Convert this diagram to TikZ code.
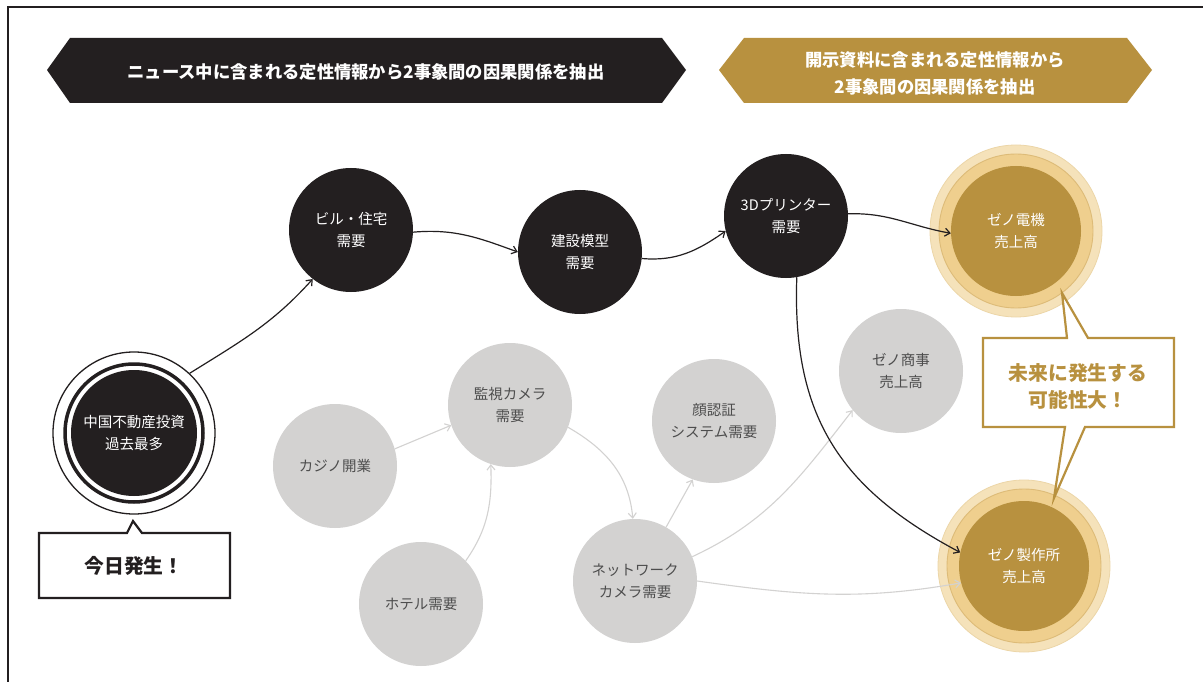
\documentclass[tikz,border=0pt]{standalone}
\usepackage{fontspec}
\setmainfont{Noto Sans CJK JP}
\usetikzlibrary{arrows.meta}
\definecolor{ink}{HTML}{231F20}
\definecolor{golddark}{HTML}{B8913F}
\definecolor{goldmid}{HTML}{EFCF8E}
\definecolor{goldlight}{HTML}{F5E2BA}
\definecolor{goldedge}{HTML}{DDBB78}
\definecolor{grayfill}{HTML}{D3D2D1}
\definecolor{graytext}{HTML}{4D4D4D}
\definecolor{grayline}{HTML}{D3D2D1}
\begin{document}
\begin{tikzpicture}[x=1pt,y=1pt,
  nodefont/.style={font=\fontsize{14.5}{21.5}\selectfont},
  blk/.style={circle,fill=ink,minimum size=124pt,inner sep=0pt,text=white,nodefont,align=center},
  gry/.style={circle,fill=grayfill,minimum size=124pt,inner sep=0pt,text=graytext,nodefont,align=center},
  gld/.style={circle,fill=golddark,minimum size=130pt,inner sep=0pt,text=white,nodefont,align=center},
  ringout/.style={circle,fill=goldlight,draw=goldlight!85!golddark,line width=0.8pt,minimum size=172pt,inner sep=0pt},
  ringmid/.style={circle,fill=goldmid,draw=goldedge,line width=0.9pt,minimum size=154pt,inner sep=0pt},
  barr/.style={draw=ink,line width=1.2pt,-{Straight Barb[length=5pt,width=8pt]}},
  garr/.style={draw=grayline,line width=1.1pt,-{Straight Barb[length=5pt,width=8pt]}},
  bannertext/.style={text=white,font=\bfseries\fontsize{17.3}{27}\selectfont,align=center},
  callfont/.style={font=\bfseries\fontsize{19.8}{27}\selectfont,align=center}
]
\useasboundingbox (0,0) rectangle (1203,-682);
\fill[white] (0,0) rectangle (1203,-682);
% frame
\draw[ink,line width=2pt] (8,-682) -- (8,-7) -- (1203,-7);

% banners
\fill[ink] (47,-70) -- (70,-38) -- (662,-38) -- (686,-70) -- (662,-103) -- (70,-103) -- cycle;
\node[bannertext] (bannerL) at (366,-72) {ニュース中に含まれる定性情報から2事象間の因果関係を抽出};
\fill[golddark] (719,-70) -- (744,-38) -- (1127,-38) -- (1152,-70) -- (1127,-103) -- (744,-103) -- cycle;
\node[bannertext] (bannerR) at (935,-73) {開示資料に含まれる定性情報から\\2事象間の因果関係を抽出};

% china node
\node[circle,draw=ink,line width=1.3pt,minimum size=162pt,inner sep=0pt] (chinaO) at (134,-433) {};
\draw[ink,line width=3.5pt] (chinaO.center) circle (69);
\node[blk,minimum size=126pt] (china) at (134,-433) {中国不動産投資\\過去最多};

% black nodes
\node[blk] (bil) at (351,-230) {ビル・住宅\\需要};
\node[blk] (ken) at (580,-252) {建設模型\\需要};
\node[blk] (pri) at (786,-216) {3Dプリンター\\需要};

% gray nodes
\node[gry] (kaj) at (335,-466) {カジノ開業};
\node[gry] (kan) at (510,-405) {監視カメラ\\需要};
\node[gry] (hot) at (421,-604) {ホテル需要};
\node[gry] (kao) at (714,-421) {顔認証\\システム需要};
\node[gry] (net) at (635,-581) {ネットワーク\\カメラ需要};
\node[gry] (sho) at (901,-371) {ゼノ商事\\売上高};

% gold nodes
\node[ringout] (denO) at (1016,-231) {};
\node[ringmid] (denM) at (1016,-231) {};
\node[gld] (den) at (1016,-231) {ゼノ電機\\売上高};
\node[ringout] (seiO) at (1024,-566) {};
\node[ringmid] (seiM) at (1024,-566) {};
\node[gld] (sei) at (1024,-566) {ゼノ製作所\\売上高};

% gray connectors
\draw[garr] (kaj.16) -- (kan.199);
\draw[garr] (hot.44) to[out=55,in=-88] (kan.252);
\draw[garr] (kan.-21) to[out=-30,in=95] (net.92);
\draw[garr] (net.60) -- (kao.250);
\draw[garr] (net.23) to[out=25,in=232] (sho.219);
\draw[garr] (net.0) to[out=-8,in=190] (sei.195);

% black connectors
\draw[barr] (chinaO.47) to[out=32,in=228] (bil.232);
\draw[barr] (bil.-2) to[out=5,in=160] (ken.180);
\draw[barr] (ken.-6) to[out=-5,in=215] (pri.194);
\draw[barr] (pri.2) to[out=2,in=170] (den.182);
\draw[barr] (pri.-80) to[out=-92,in=152,looseness=1.1] (sei.168);

% callouts
\draw[ink,line width=2.2pt,fill=white,line join=miter] (39,-533) -- (127,-533) -- (133,-521) -- (142,-533) -- (230,-533) -- (230,-598) -- (39,-598) -- cycle;
\node[callfont,text=ink] (today) at (134,-566) {今日発生！};

\draw[golddark,line width=2.2pt,fill=white,line join=miter] (983,-338) -- (1067,-338) -- (1062,-293) -- (1088,-338) -- (1174,-338) -- (1174,-427) -- (1085,-427) -- (1054,-498) -- (1065,-427) -- (983,-427) -- cycle;
\node[callfont,text=golddark] (future) at (1078,-386) {未来に発生する\\可能性大！};
\end{tikzpicture}
\end{document}
